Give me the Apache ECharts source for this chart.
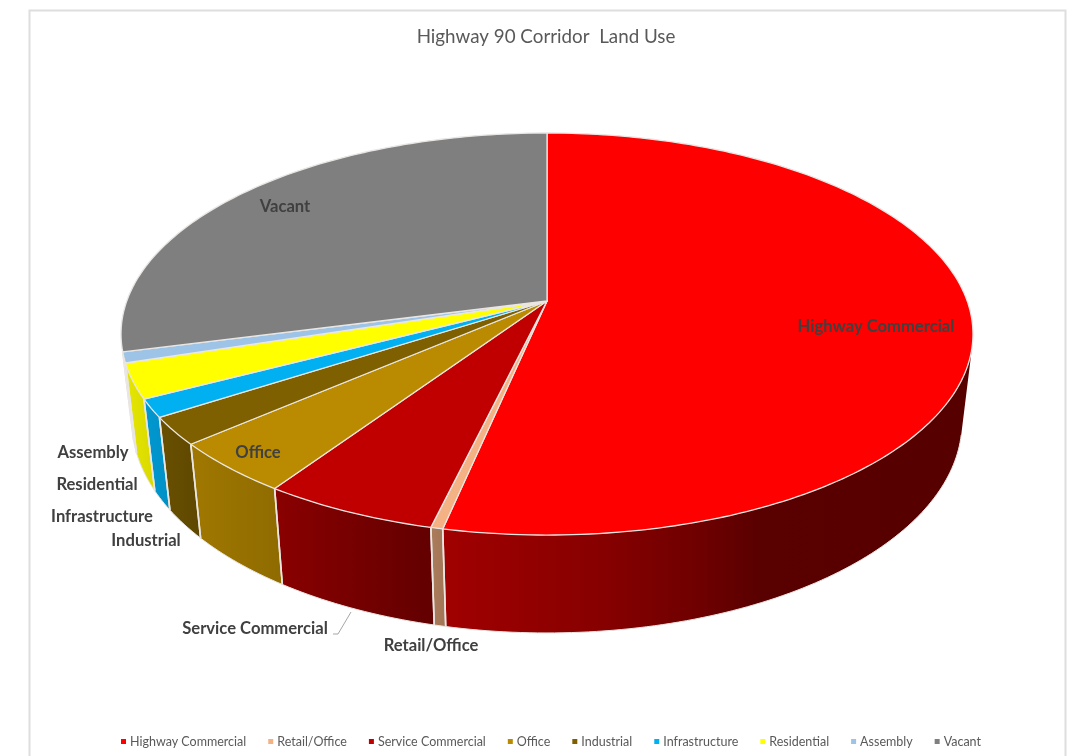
<!DOCTYPE html>
<html>
<head>
<meta charset="utf-8">
<title>Highway 90 Corridor Land Use</title>
<script src="https://cdn.jsdelivr.net/npm/echarts@6/dist/echarts.min.js"></script>
<style>html,body{margin:0;padding:0;background:#fff}#chart{width:1082px;height:756px}</style>
</head>
<body>
<div id="chart"></div>
<script>
// Land use shares, percent of the corridor, clockwise from twelve o'clock.
const categories = ['Highway Commercial', 'Retail/Office', 'Service Commercial', 'Office', 'Industrial', 'Infrastructure', 'Residential', 'Assembly', 'Vacant'];
const shares = [53.34, 0.39, 5.73, 4.2, 2.22, 1.45, 2.8, 0.85, 29.02];
const colors = ['#ff0000', '#f4b183', '#c00000', '#ba8b00', '#7f6000', '#00b0f0', '#ffff00', '#9dc3e6', '#7f7f7f'];

// Wall brightness across each slice's width, left to right: [fraction, factor].
const wallShades = [
  [[0, .63], [.3, .53], [.49, .43], [.6, .35], [1, .34]],
  [[0, .7], [1, .66]],
  [[0, .72], [1, .51]],
  [[0, .86], [1, .77]],
  [[0, .83], [1, .74]],
  [[0, .87], [1, .82]],
  [[0, .9], [1, .85]],
  [[0, .8], [1, .8]],
  [[0, .6], [1, .6]]
];

// Centres of the slice labels on the canvas.
const labelAnchors = [[876, 327], [431, 646], [255, 629], [258, 453], [146, 541], [102, 517], [97, 485], [93, 453], [285, 207]];

// Perspective projection of the disc: rim circle to screen for the top and bottom faces.
const topFace = { cx: 547, cy: 301, a: 420.2, b: 195.6, k: 0.1642 };
const bottomFace = { cx: 547, cy: 388, a: 409.6, b: 205.5, k: 0.161 };
const RIM_LINE = '#e9e6e3';

function project(face, deg) {
  const t = deg * Math.PI / 180;
  const u = Math.sin(t), v = -Math.cos(t), d = 1 - face.k * v;
  return [face.cx + face.a * u / d, face.cy + face.b * v / d];
}

// The wall's outline ends where a vertical generator runs along the top rim's tangent.
function facesViewer(deg) {
  const p = project(topFace, deg), n = project(topFace, deg + 0.1), q = project(bottomFace, deg);
  return (n[0] - p[0]) * (q[1] - p[1]) - (n[1] - p[1]) * (q[0] - p[0]) < 0;
}
function findVisibleArc() {
  let from = 0, to = 360;
  for (let a = 10; a < 180; a += 0.1) if (facesViewer(a)) { from = a; break; }
  for (let a = 350; a > 180; a -= 0.1) if (facesViewer(a)) { to = a; break; }
  return [from, to];
}
const visibleArc = findVisibleArc();

const total = shares.reduce((s, x) => s + x, 0);
const bounds = [0];
shares.forEach((s, i) => bounds.push(bounds[i] + s / total * 360));

function sampleAngles(from, to, step) {
  const n = Math.max(1, Math.ceil((to - from) / step));
  const out = [];
  for (let i = 0; i <= n; i++) out.push(from + (to - from) * i / n);
  return out;
}
function darken(hex, m) {
  const n = parseInt(hex.slice(1), 16);
  const c = [n >> 16 & 255, n >> 8 & 255, n & 255].map(x => Math.round(x * m));
  return 'rgb(' + c.join(',') + ')';
}

function sliceGraphic(i) {
  const from = bounds[i], to = bounds[i + 1];
  const children = [];

  // Outer wall, limited to the part of the rim that faces the viewer.
  const wallFrom = Math.max(from, visibleArc[0]), wallTo = Math.min(to, visibleArc[1]);
  if (wallTo > wallFrom) {
    const arc = sampleAngles(wallFrom, wallTo, 1);
    const upper = arc.map(a => project(topFace, a));
    const lower = arc.map(a => project(bottomFace, a));
    const xs = upper.concat(lower).map(p => p[0]);
    const xMin = Math.min.apply(null, xs), xMax = Math.max.apply(null, xs);
    const fill = new echarts.graphic.LinearGradient(xMin, 0, xMax, 0,
      wallShades[i].map(s => ({ offset: s[0], color: darken(colors[i], s[1]) })), true);
    children.push({
      type: 'polygon', z2: 2,
      shape: { points: upper.concat(lower.slice().reverse()) },
      style: { fill: fill }
    });
    children.push({
      type: 'polyline', z2: 4,
      shape: { points: lower },
      style: { fill: null, stroke: RIM_LINE, lineWidth: 1 }
    });
    [from, to].forEach(a => {
      if (a > visibleArc[0] && a < visibleArc[1]) {
        const p = project(topFace, a), q = project(bottomFace, a);
        children.push({
          type: 'line', z2: 5,
          shape: { x1: p[0], y1: p[1], x2: q[0], y2: q[1] },
          style: { stroke: RIM_LINE, lineWidth: 1.6 }
        });
      }
    });
  }

  // Top face of the slice.
  children.push({
    type: 'polygon', z2: 10,
    shape: { points: [[topFace.cx, topFace.cy]].concat(sampleAngles(from, to, 1).map(a => project(topFace, a))) },
    style: { fill: colors[i], stroke: RIM_LINE, lineWidth: 1.3, lineJoin: 'round' }
  });

  // Category label.
  children.push({
    type: 'text', z2: 20,
    style: {
      text: categories[i],
      x: labelAnchors[i][0], y: labelAnchors[i][1],
      align: 'center', verticalAlign: 'middle',
      fill: '#404040', font: 'bold 16.6px Lato'
    }
  });

  // Leader from the Service Commercial label back to its wall.
  if (categories[i] === 'Service Commercial') {
    children.push({
      type: 'polyline', z2: 6,
      shape: { points: [[333, 634], [338, 634], [351, 612]] },
      style: { fill: null, stroke: '#a6a6a6', lineWidth: 1 }
    });
  }
  return { type: 'group', children: children };
}

const chart = echarts.init(document.getElementById('chart'), null, { renderer: 'canvas' });
chart.setOption({
  animation: false,
  backgroundColor: '#ffffff',
  title: {
    text: 'Highway 90 Corridor  Land Use',
    left: 541, top: 22, textAlign: 'center',
    textStyle: { fontFamily: 'Lato', fontWeight: 'normal', fontSize: 18.8, color: '#595959' }
  },
  legend: {
    data: categories,
    left: 116, top: 730,
    icon: 'rect', itemWidth: 5, itemHeight: 5, itemGap: 22,
    selectedMode: false,
    textStyle: { fontFamily: 'Lato', fontSize: 12.5, color: '#595959', padding: [0, 0, 0, -1] }
  },
  graphic: [{
    type: 'rect', silent: true, z: -1,
    shape: { x: 29.5, y: 10.5, width: 1036, height: 800 },
    style: { fill: '#ffffff', stroke: '#dedede', lineWidth: 2 }
  }],
  series: categories.map((name, i) => ({
    type: 'custom',
    name: name,
    coordinateSystem: 'none',
    silent: true,
    clip: false,
    itemStyle: { color: colors[i] },
    data: [shares[i]],
    renderItem: () => sliceGraphic(i)
  }))
});
</script>
</body>
</html>
